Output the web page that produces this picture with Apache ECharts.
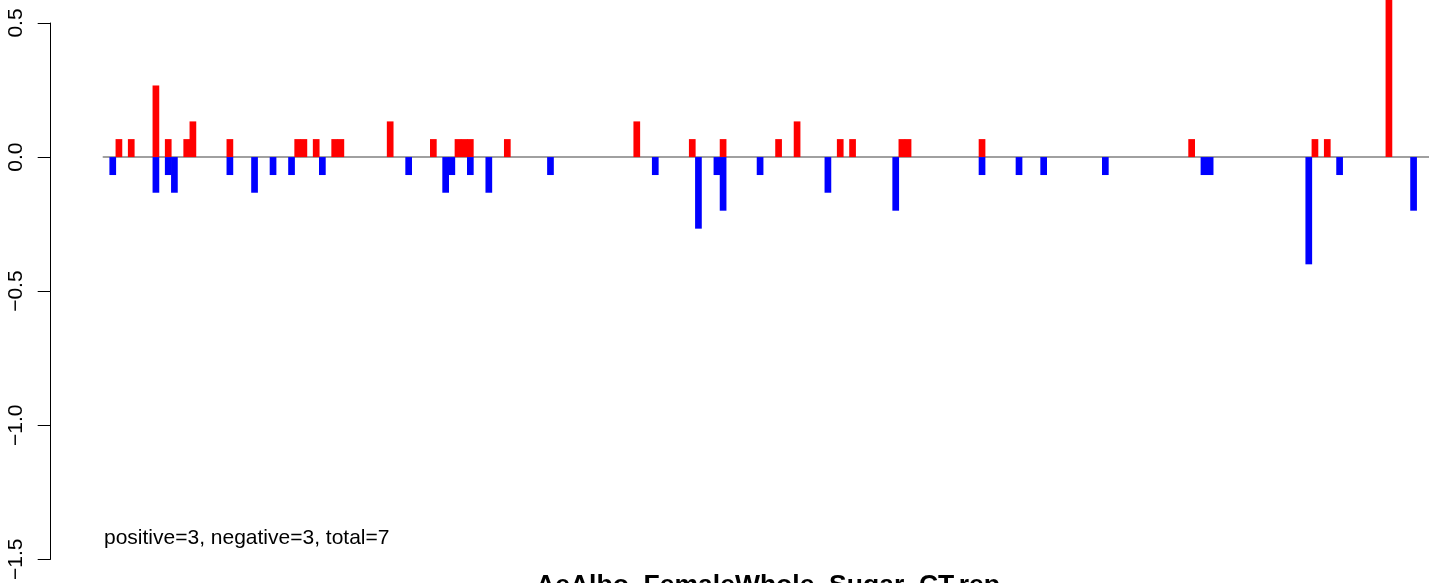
<!DOCTYPE html>
<html>
<head>
<meta charset="utf-8">
<script src="https://cdn.jsdelivr.net/npm/echarts@6/dist/echarts.min.js"></script>
<style>
html,body{margin:0;padding:0;background:#fff;}
#chart{width:1429px;height:583px;}
</style>
</head>
<body>
<div id="chart"></div>
<script>
// ---- data ----
const slotCount = 215;               // number of category slots on the x axis
const posSlots  = [2,4,8,10,13,14,20,31,32,34,37,38,46,53,57,58,59,65,86,95,100,109,112,119,121,129,130,142,176,196,198,208];
const posValues = [0.067,0.067,0.267,0.067,0.067,0.133,0.067,0.067,0.067,0.067,0.067,0.067,0.133,0.067,0.067,0.067,0.067,0.067,0.133,0.067,0.067,0.067,0.133,0.067,0.067,0.067,0.067,0.067,0.067,0.067,0.067,0.6];
const negSlots  = [1,8,10,11,20,24,27,30,35,49,55,56,59,62,72,89,96,99,100,106,117,128,142,148,152,162,178,179,195,200,212];
const negValues = [-0.067,-0.133,-0.067,-0.133,-0.067,-0.133,-0.067,-0.067,-0.067,-0.067,-0.133,-0.067,-0.067,-0.133,-0.067,-0.067,-0.267,-0.067,-0.2,-0.067,-0.133,-0.2,-0.067,-0.067,-0.067,-0.067,-0.067,-0.067,-0.4,-0.067,-0.2];
const yTicks = [-1.5, -1.0, -0.5, 0.0, 0.5];
const annotation = 'positive=3, negative=3, total=7';
const titleText = 'AeAlbo_FemaleWhole_Sugar_CT.rep';

// ---- build series arrays ----
const categories = [];
for (let i = 0; i < slotCount; i++) categories.push(String(i));
const posData = new Array(slotCount).fill(null);
const negData = new Array(slotCount).fill(null);
posSlots.forEach((s, i) => { posData[s] = posValues[i]; });
negSlots.forEach((s, i) => { negData[s] = negValues[i]; });

const chart = echarts.init(document.getElementById('chart'), null, {renderer: 'canvas'});
const FONT = '"Liberation Sans", Arial, Helvetica, sans-serif';

chart.setOption({
  animation: false,
  backgroundColor: '#ffffff',
  grid: {left: 103.5, right: -3.2, top: 23, bottom: 21.3, containLabel: false},
  xAxis: {
    type: 'category',
    data: categories,
    boundaryGap: true,
    axisLine: {show: true, onZero: true, lineStyle: {color: '#a0a0a0', width: 2}},
    axisTick: {show: false},
    axisLabel: {show: false},
    splitLine: {show: false},
    z: 1
  },
  yAxis: {
    type: 'value',
    min: yTicks[0],
    max: yTicks[yTicks.length - 1],
    interval: 0.5,
    offset: 52.8,
    axisLine: {show: true, lineStyle: {color: '#000', width: 1}},
    axisTick: {show: true, length: 13, lineStyle: {color: '#000', width: 1}},
    splitLine: {show: false},
    axisLabel: {
      rotate: 90,
      margin: 24,
      color: '#000',
      fontFamily: FONT,
      fontSize: 21,
      formatter: v => v.toFixed(1).replace('-', '\u2212')
    }
  },
  series: [
    {
      name: 'positive', type: 'bar', data: posData,
      barWidth: 6.7, barGap: '-100%', clip: false,
      itemStyle: {color: '#ff0000'}, z: 3
    },
    {
      name: 'negative', type: 'bar', data: negData,
      barWidth: 6.7, barGap: '-100%', clip: false,
      itemStyle: {color: '#0000ff'}, z: 3
    }
  ],
  graphic: [
    {
      type: 'text', x: 104, y: 538.5,
      style: {text: annotation, fill: '#000', font: '21px ' + FONT, textAlign: 'left', textVerticalAlign: 'middle'}
    },
    {
      type: 'text', x: 768, y: 586,
      style: {text: titleText, fill: '#000', font: 'bold 26.5px ' + FONT, textAlign: 'center', textVerticalAlign: 'middle'}
    }
  ]
});
</script>
</body>
</html>
